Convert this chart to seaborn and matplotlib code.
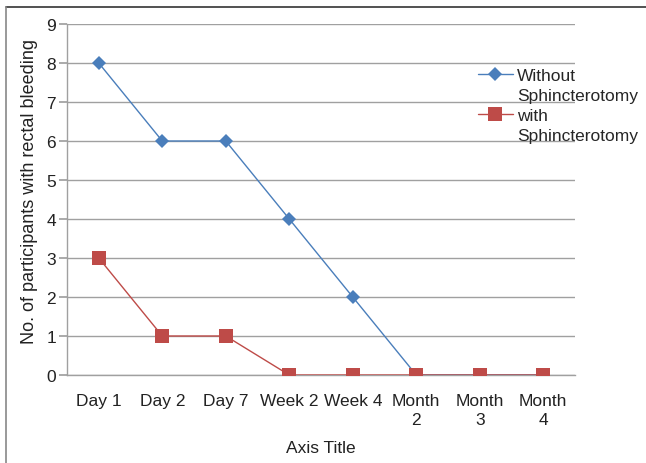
import matplotlib
matplotlib.use("Agg")
import matplotlib.pyplot as plt
import seaborn as sns
import pandas as pd
from matplotlib.lines import Line2D

categories = ["Day 1", "Day 2", "Day 7", "Week 2", "Week 4", "Month\n2", "Month\n3", "Month\n4"]
without_sph = [8, 6, 6, 4, 2, 0, 0, 0]
with_sph = [3, 1, 1, 0, 0, 0, 0, 0]
series_names = ["Without\nSphincterotomy", "with\nSphincterotomy"]
y_ticks = list(range(0, 10))

sns.set_theme(style="white")
plt.rcParams['font.family'] = ['Liberation Sans', 'DejaVu Sans']

df = pd.DataFrame({
    "x": list(range(len(categories))) * 2,
    "value": without_sph + with_sph,
    "series": [series_names[0]] * len(categories) + [series_names[1]] * len(categories),
})

fig = plt.figure(figsize=(6.46, 4.64), dpi=100)
ax = fig.add_axes([67/646, 1 - 376/464, (575 - 67)/646, (376 - 25)/464])

colors = {series_names[0]: "#4a7ebb", series_names[1]: "#be4b48"}
markers = {series_names[0]: "D", series_names[1]: "s"}
sizes = {series_names[0]: 7.5, series_names[1]: 10}
for name in series_names:
    sub = df[df["series"] == name]
    sns.lineplot(data=sub, x="x", y="value", ax=ax, color=colors[name], marker=markers[name],
                 markersize=sizes[name], markeredgewidth=0, linewidth=1.0, legend=False, zorder=3)

FS = 12.5
TXT = "#222222"
ax.set_xlim(-0.5, len(categories) - 0.5)
ax.set_ylim(0, 9)
ax.set_yticks(y_ticks)
ax.set_xticks(range(len(categories)))
ax.set_xticklabels(categories, fontsize=FS, color=TXT, linespacing=1.35)
ax.set_yticklabels([str(v) for v in y_ticks], fontsize=FS, color=TXT)
ax.yaxis.grid(True, color="#a0a0a0", linewidth=1.0)
ax.xaxis.grid(False)
for s in ["top", "right"]:
    ax.spines[s].set_visible(False)
ax.spines["left"].set_color("#a0a0a0")
ax.spines["bottom"].set_color("#a0a0a0")
ax.spines["left"].set_linewidth(1.0)
ax.spines["bottom"].set_linewidth(1.0)
ax.tick_params(axis="y", which="major", left=True, length=6, color="#a0a0a0", pad=2)
ax.tick_params(axis="x", which="major", bottom=False, pad=7)
ax.set_xlabel("Axis Title", fontsize=FS, color=TXT, labelpad=9)
ax.set_ylabel("No. of participants with rectal bleeding", fontsize=13, color=TXT, labelpad=6)
ax.yaxis.label.set_y((376 - 192) / 351)

# legend: one text line per row, marker beside the first line of each label
blank = Line2D([], [], linestyle="none")
leg_handles = []
leg_labels = []
for n in series_names:
    first, second = n.split("\n")
    leg_handles += [Line2D([0], [0], color=colors[n], marker=markers[n], markersize=sizes[n],
                           markeredgewidth=0, linewidth=1.0), blank]
    leg_labels += [first, second]
fig.legend(leg_handles, leg_labels, loc="upper left", bbox_to_anchor=(478/646, 1 - 69/464),
           frameon=False, fontsize=FS, handlelength=2.0, handletextpad=0.26,
           labelspacing=0.28, borderpad=0, borderaxespad=0)

# outer frame lines (top and left)
fig.add_artist(Line2D([6/646, 1.0], [1 - 7.5/464, 1 - 7.5/464], transform=fig.transFigure,
                      color="#333333", linewidth=1.2))
fig.add_artist(Line2D([6/646, 6/646], [0, 1 - 7.5/464], transform=fig.transFigure,
                      color="#888888", linewidth=1.2))

fig.savefig("out.png", dpi=100)
